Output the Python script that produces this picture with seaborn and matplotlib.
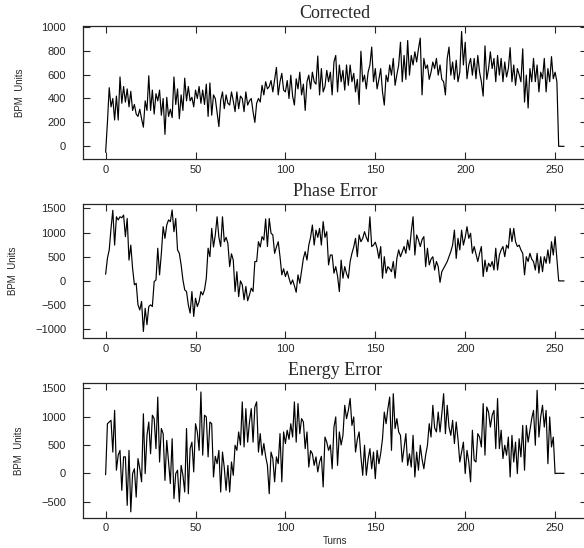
import matplotlib
matplotlib.use("Agg")
import matplotlib.pyplot as plt
import numpy as np
import seaborn as sns

# turn numbers
turns = list(range(256))

corrected = [
    -50, 200, 490, 330, 400, 220, 420, 220, 580, 360,
    500, 370, 480, 330, 460, 300, 350, 270, 250, 310,
    230, 160, 380, 300, 590, 300, 470, 270, 440, 380,
    470, 260, 400, 100, 410, 250, 310, 240, 580, 350,
    480, 230, 430, 300, 570, 380, 500, 380, 410, 330,
    470, 400, 500, 360, 470, 350, 520, 250, 530, 260,
    430, 400, 280, 165, 385, 455, 315, 430, 360, 345,
    455, 380, 290, 455, 315, 420, 400, 290, 455, 345,
    380, 400, 290, 200, 360, 400, 370, 510, 430, 540,
    480, 500, 550, 455, 560, 660, 430, 540, 610, 470,
    455, 550, 400, 595, 420, 345, 565, 480, 620, 430,
    520, 300, 540, 595, 480, 620, 540, 520, 755, 430,
    650, 455, 500, 635, 540, 620, 430, 705, 760, 455,
    680, 540, 635, 470, 680, 510, 680, 540, 610, 455,
    560, 350, 795, 540, 595, 480, 620, 680, 830, 540,
    650, 480, 560, 650, 455, 345, 595, 540, 680, 595,
    735, 510, 600, 680, 870, 540, 760, 560, 885, 595,
    760, 680, 790, 705, 815, 905, 430, 735, 650, 680,
    560, 620, 705, 650, 735, 595, 680, 560, 540, 430,
    735, 830, 595, 705, 560, 720, 540, 620, 960, 680,
    870, 565, 680, 735, 595, 735, 565, 760, 620, 540,
    420, 840, 560, 650, 790, 650, 735, 540, 760, 595,
    735, 540, 705, 580, 650, 825, 540, 680, 510, 650,
    600, 540, 815, 370, 595, 320, 650, 540, 735, 540,
    680, 455, 620, 565, 735, 455, 650, 540, 750, 565,
    620, 540, 0, 0, 0, 0,
]

phase_error = [
    137, 467, 640, 1085, 1460, 740, 1325, 1260, 1325, 1305,
    1360, 915, 1290, 430, 740, 260, -80, -50, -495, -600,
    -425, -1045, -565, -905, -530, -495, -530, -15, 20, 675,
    125, 570, 1120, 880, 1155, 1260, 1225, 1465, 1017, 1290,
    640, 570, 330, 20, -185, -220, -495, -665, -220, -735,
    -357, -530, -425, -220, -290, -185, 55, 675, 500, 1085,
    700, 950, 1325, 900, 710, 1325, 810, 900, 775, 295,
    560, 430, -220, 190, -325, 0, -80, -390, -115, -410,
    -290, -150, -220, 400, 400, 810, 700, 915, 845, 1280,
    710, 1290, 985, 950, 570, 700, 810, 500, 125, 250,
    90, 200, 55, -70, 20, -100, -235, 125, -50, 200,
    465, 605, 430, 740, 900, 1155, 740, 1050, 900, 1085,
    740, 1225, 900, 1017, 330, 535, 535, 160, 295, 100,
    -220, 430, 55, 295, 150, 55, 400, 570, 700, 880,
    500, 950, 810, 880, 1017, 900, 810, 1325, 710, 740,
    800, 675, 465, 710, 55, 500, 160, 295, 250, 190,
    400, 55, 465, 640, 500, 600, 710, 570, 845, 640,
    1017, 1325, 535, 950, 845, 710, 850, 915, 295, 675,
    330, 450, 500, 225, 400, 295, -30, 190, 260, 330,
    400, 500, 605, 740, 1050, 465, 880, 640, 1050, 740,
    900, 1120, 880, 985, 570, 710, 550, 400, 570, 710,
    90, 430, 190, 365, 295, 400, 225, 675, 225, 535,
    640, 710, 500, 740, 675, 1085, 810, 1085, 810, 710,
    740, 640, 570, 125, 500, 400, 570, 450, 400, 225,
    570, 160, 500, 190, 500, 365, 640, 365, 810, 535,
    915, 465, 0, 0, 0, 0,
]

energy_error = [
    -25, 875, 905, 935, 375, 1110, 55, 320, 405, -300,
    290, 290, -565, 405, -680, -5, 80, -420, 260, 80,
    -150, 1050, -5, 670, 905, 345, 1025, 965, 435, 1345,
    200, 790, 700, -125, 580, 200, -180, 610, -445, -5,
    55, -505, 140, -35, -330, 790, -360, 435, 550, 25,
    875, 730, 405, 1435, 320, 1025, 995, 290, 905, 875,
    -65, 300, 170, 405, -330, 375, 100, -300, 140, -330,
    200, -35, 495, 405, 730, 500, 1260, 465, 1140, 550,
    900, 1140, 550, 1170, 1260, 375, 700, 320, 525, 300,
    140, -360, 375, 260, -150, 290, 170, 700, -150, 730,
    525, 760, 600, 875, 640, 1260, 550, 1230, 700, 965,
    905, 435, 730, 110, 400, 345, 140, 290, 25, 200,
    300, -240, 640, 550, 405, 500, 80, 815, 995, 140,
    730, 500, 670, 1200, 965, 1110, 1320, 845, 995, 375,
    600, 730, 290, -35, 495, -35, 250, 435, 80, 375,
    -95, 405, 170, 350, 610, 1080, 875, 1140, 1345, 405,
    1405, 790, 965, 730, 670, 200, 450, 700, 140, 345,
    110, 670, -65, 375, 55, 495, 250, 80, 320, 495,
    875, 640, 1200, 800, 730, 1080, 730, 1050, 1405, 700,
    1200, 815, 670, 935, 525, 905, 600, 200, 375, 550,
    -5, 405, 200, -150, 760, 230, 200, 700, 640, 465,
    1230, 320, 1170, 1080, 815, 1025, 1110, 435, 1320, 435,
    760, 260, 495, 320, 640, -65, 670, 200, 550, -5,
    610, 290, 845, 55, 845, 550, 760, 965, 1110, 495,
    1465, 640, 995, 1200, 815, 1110, 170, 995, 465, 640,
    -5, 0, 0, 0, 0, 0,
]

titles = ["Corrected", "Phase Error", "Energy Error"]
series = [corrected, phase_error, energy_error]
yticks = [[0, 200, 400, 600, 800, 1000],
          [-1000, -500, 0, 500, 1000, 1500],
          [-500, 0, 500, 1000, 1500]]
ylims = [(-106, 1006), (-1180, 1583), (-783, 1588)]
xticks = [0, 50, 100, 150, 200, 250]

sns.set_style("ticks")
plt.rcParams['font.family'] = ['Liberation Sans', 'DejaVu Sans']

fig = plt.figure(figsize=(5.84, 5.48), dpi=100)

# axes boxes in pixels (left, top, right, bottom); right edge runs off the image
boxes = [(82.7, 26.0, 587.0, 159.0),
         (82.7, 204.3, 587.0, 338.0),
         (82.7, 383.3, 587.0, 517.7)]

W, H = 584.0, 548.0
for i, (title, vals) in enumerate(zip(titles, series)):
    l, t, r, b = boxes[i]
    ax = fig.add_axes([l / W, (H - b) / H, (r - l) / W, (b - t) / H])
    sns.lineplot(x=turns, y=vals, ax=ax, color="black", linewidth=0.85)
    ax.set_xlim(-12.75, 267.75)
    ax.set_ylim(*ylims[i])
    ax.set_xticks(xticks)
    ax.set_yticks(yticks[i])
    ax.tick_params(direction="in", length=5, width=0.8, top=True, right=True,
                   labelsize=8, pad=4)
    ax.tick_params(axis="y", pad=12)
    for sp in ax.spines.values():
        sp.set_linewidth(0.9)
    ax.set_title(title, fontsize=13, family="Liberation Serif", pad=6)
    ax.set_ylabel("BPM  Units", fontsize=7, labelpad=12)
    ax.set_xlabel("Turns" if i == 2 else "", fontsize=7, labelpad=2)

fig.savefig("out.png", dpi=100)
